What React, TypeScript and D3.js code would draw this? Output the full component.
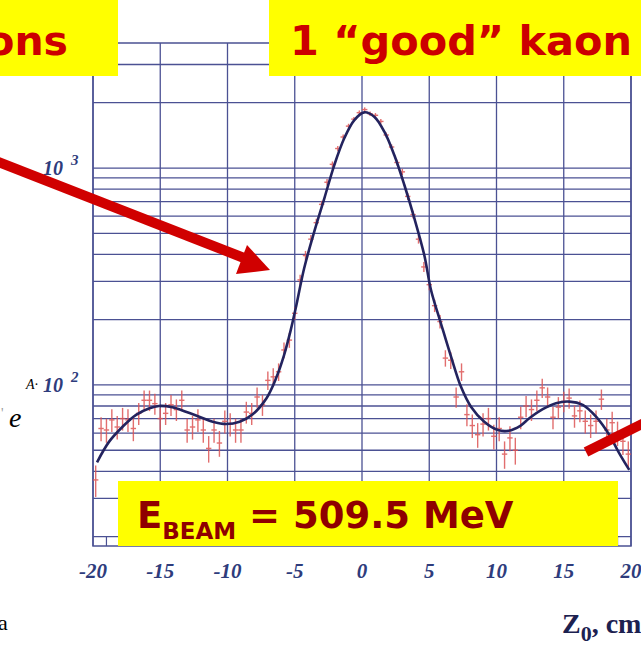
import React, { useRef, useEffect } from "react";
import * as d3 from "d3";

// histogram bins (Z0, cm) and counts
const binZ = [
  -19.8, -19.4, -19.0, -18.6, -18.2, -17.8, -17.4, -17.0, -16.6, -16.2,
  -15.8, -15.4, -15.0, -14.6, -14.2, -13.8, -13.4, -13.0, -12.6, -12.2,
  -11.8, -11.4, -11.0, -10.6, -10.2, -9.8, -9.4, -9.0, -8.6, -8.2,
  -7.8, -7.4, -7.0, -6.6, -6.2, -5.8, -5.4, -5.0, -4.6, -4.2,
  -3.8, -3.4, -3.0, -2.6, -2.2, -1.8, -1.4, -1.0, -0.6, -0.2,
  0.2, 0.6, 1.0, 1.4, 1.8, 2.2, 2.6, 3.0, 3.4, 3.8,
  4.2, 4.6, 5.0, 5.4, 5.8, 6.2, 6.6, 7.0, 7.4, 7.8,
  8.2, 8.6, 9.0, 9.4, 9.8, 10.2, 10.6, 11.0, 11.4, 11.8,
  12.2, 12.6, 13.0, 13.4, 13.8, 14.2, 14.6, 15.0, 15.4, 15.8,
  16.2, 16.6, 17.0, 17.4, 17.8, 18.2, 18.6, 19.0, 19.4, 19.8,
];
const binCounts = [
  36.5, 63, 62, 69, 64, 70, 69, 63, 74, 85,
  85, 82, 70, 74, 81, 77, 85, 62, 64, 69,
  62, 51, 62, 54, 68, 66, 62, 62, 75, 74,
  88, 81, 105, 109, 115, 145, 161, 214, 305, 395,
  470, 560, 680, 860, 1040, 1230, 1390, 1560, 1680, 1800,
  1860, 1780, 1750, 1640, 1420, 1250, 1060, 960, 740, 610,
  470, 350, 290, 232, 196, 133, 130, 88, 115, 73,
  65, 59, 66, 70, 58, 63, 48, 57, 50, 71,
  80, 77, 85, 97, 88, 71, 79, 84, 87, 72,
  76, 68, 65, 68, 86, 62, 67, 60, 55, 48,
];

// fitted curve
const fitZ = [
  -19.7, -18.8, -17.8, -16.8, -15.8, -15.1, -14.1, -13.1, -12.1, -11.1,
  -10.1, -9.1, -8.1, -7.1, -6.4, -5.8, -5.3, -4.9, -4.3, -3.55,
  -2.8, -2.06, -1.32, -0.57, 0.17, 0.91, 1.66, 2.4, 3.15, 3.89,
  4.63, 5.13, 5.87, 6.62, 7.36, 8.1, 9.09, 10.1, 10.9, 11.8,
  12.44, 13.44, 14.42, 15.41, 16.41, 17.4, 18.39, 19.13, 19.87,
];
const fitCounts = [
  44, 54.8, 64.2, 72.8, 78.1, 80, 78.9, 75.3, 71.4, 67.7,
  66.1, 67.7, 73.5, 86.9, 107, 137, 179, 230, 345, 509,
  725, 1032, 1371, 1664, 1806, 1723, 1470, 1148, 835, 587,
  397, 274, 192, 135, 98, 79.4, 67.7, 62, 61.5, 65,
  70.2, 77.3, 82.4, 83.8, 80.9, 71.4, 58.8, 48.4, 40.6,
];

const xTicks = [-20, -15, -10, -5, 0, 5, 10, 15, 20];
const yGrid = [20, 30, 40, 50, 60, 70, 80, 90, 100, 200, 300, 400, 500, 600, 700, 800, 900, 1000, 2000, 3000];
const yLabels = [
  { value: 1000, exp: "3" },
  { value: 100, exp: "2" },
];

const W = 641;
const H = 645;
const grid = "#4b5193";
const navy = "#2e3c7c";

const Chart = () => {
  const ref = useRef(null);

  useEffect(() => {
    const root = d3.select(ref.current);
    root.selectAll("*").remove();

    const svg = root
      .append("svg")
      .attr("width", W)
      .attr("height", H)
      .style("position", "absolute")
      .style("left", 0)
      .style("top", 0)
      .style("background", "#fff");

    const x = d3.scaleLinear().domain([-20, 20]).range([93, 631]);
    const y = d3.scaleLog().domain([18.1, 3770]).range([546, 43]);
    const [x0, x1] = x.range();
    const [yb, yt] = y.range();

    // grid
    const g = svg.append("g");
    g.selectAll(".h")
      .data(yGrid)
      .enter()
      .append("line")
      .attr("x1", x0)
      .attr("x2", x1)
      .attr("y1", (d) => y(d))
      .attr("y2", (d) => y(d))
      .attr("stroke", grid)
      .attr("stroke-width", 1.3);
    g.selectAll(".v")
      .data(xTicks)
      .enter()
      .append("line")
      .attr("x1", (d) => x(d))
      .attr("x2", (d) => x(d))
      .attr("y1", yt)
      .attr("y2", yb)
      .attr("stroke", grid)
      .attr("stroke-width", 1.3);
    g.append("rect")
      .attr("x", x0)
      .attr("y", yt)
      .attr("width", x1 - x0)
      .attr("height", yb - yt)
      .attr("fill", "none")
      .attr("stroke", grid)
      .attr("stroke-width", 1.5);
    g.selectAll(".minor")
      .data(d3.range(-19, 20).filter((d) => d % 5 !== 0))
      .enter()
      .append("line")
      .attr("x1", (d) => x(d))
      .attr("x2", (d) => x(d))
      .attr("y1", yb - 9)
      .attr("y2", yb)
      .attr("stroke", grid)
      .attr("stroke-width", 1.2);

    // data points with error bars
    const pts = svg
      .append("g")
      .attr("stroke", "#dd5555")
      .attr("stroke-width", 1.4)
      .attr("opacity", 0.85);
    binZ.forEach((z, i) => {
      const v = binCounts[i];
      const e = Math.sqrt(v);
      pts.append("line")
        .attr("x1", x(z))
        .attr("x2", x(z))
        .attr("y1", y(v + e))
        .attr("y2", y(Math.max(v - e, 18.2)));
      pts.append("line")
        .attr("x1", x(z - 0.2))
        .attr("x2", x(z + 0.2))
        .attr("y1", y(v))
        .attr("y2", y(v));
    });

    // fit curve
    const line = d3
      .line()
      .x((d) => x(d[0]))
      .y((d) => y(d[1]))
      .curve(d3.curveCatmullRom);
    svg.append("path")
      .attr("d", line(fitZ.map((z, i) => [z, fitCounts[i]])))
      .attr("fill", "none")
      .attr("stroke", "#23235e")
      .attr("stroke-width", 2.6);

    // x tick labels
    svg.selectAll(".xt")
      .data(xTicks)
      .enter()
      .append("text")
      .attr("x", (d) => x(d))
      .attr("y", 578)
      .attr("text-anchor", "middle")
      .attr("font-family", "Liberation Serif, serif")
      .attr("font-weight", "bold")
      .attr("font-style", "italic")
      .attr("font-size", 21)
      .attr("fill", navy)
      .text((d) => String(d));

    // y labels 10^n
    yLabels.forEach((d) => {
      const t = svg.append("text")
        .attr("x", 43)
        .attr("y", y(d.value) + 7)
        .attr("font-family", "Liberation Serif, serif")
        .attr("font-weight", "bold")
        .attr("font-style", "italic")
        .attr("font-size", 20)
        .attr("fill", navy);
      t.append("tspan").text("10");
      t.append("tspan").attr("dx", 8).attr("dy", -10).attr("font-size", 15).text(d.exp);
    });

    // axis title
    const title = svg.append("text")
      .attr("x", 562)
      .attr("y", 633)
      .attr("font-family", "Liberation Serif, serif")
      .attr("font-weight", "bold")
      .attr("font-size", 28)
      .attr("fill", "#1c2150");
    title.append("tspan").text("Z");
    title.append("tspan").attr("dy", 8).attr("font-size", 22).text("0");
    title.append("tspan").attr("dy", -8).text(", cm");

    // leftover fragments of the slide
    const serif = "Liberation Serif, serif";
    svg.append("text").attr("x", 26).attr("y", 389).attr("font-family", serif)
      .attr("font-size", 14).attr("font-style", "italic").text("A·");
    svg.append("text").attr("x", 9).attr("y", 427).attr("font-family", serif)
      .attr("font-size", 28).attr("font-style", "italic").text("e");
    svg.append("text").attr("x", 1).attr("y", 418).attr("font-family", serif)
      .attr("font-size", 14).attr("fill", "#999").text("'");
    svg.append("text").attr("x", -2).attr("y", 630).attr("font-family", serif)
      .attr("font-size", 22).text("a");

    // red arrows
    svg.append("line")
      .attr("x1", -4).attr("y1", 161)
      .attr("x2", 244).attr("y2", 258)
      .attr("stroke", "#d00000").attr("stroke-width", 10);
    svg.append("path")
      .attr("d", "M270,270 L247,245 L236,274 Z")
      .attr("fill", "#d00000");
    svg.append("line")
      .attr("x1", 586).attr("y1", 452)
      .attr("x2", 650).attr("y2", 420)
      .attr("stroke", "#d00000").attr("stroke-width", 10);

    // yellow labels
    const sans = "DejaVu Sans, Verdana, sans-serif";
    svg.append("rect").attr("x", 0).attr("y", 0).attr("width", 118).attr("height", 76).attr("fill", "#ffff00");
    svg.append("text").attr("x", 68).attr("y", 55).attr("text-anchor", "end")
      .attr("font-family", sans).attr("font-weight", "bold").attr("font-size", 41)
      .attr("fill", "#cc0000").text("ons");
    svg.append("rect").attr("x", 269).attr("y", 0).attr("width", 372).attr("height", 76).attr("fill", "#ffff00");
    svg.append("text").attr("x", 290).attr("y", 55)
      .attr("font-family", sans).attr("font-weight", "bold").attr("font-size", 40)
      .attr("textLength", 342).attr("lengthAdjust", "spacingAndGlyphs")
      .attr("fill", "#cc0000").text("1 \u201cgood\u201d kaon");

    svg.append("rect").attr("x", 118).attr("y", 481).attr("width", 500).attr("height", 65).attr("fill", "#ffff00");
    const eb = svg.append("text").attr("x", 137).attr("y", 528)
      .attr("font-family", sans).attr("font-weight", "bold").attr("font-size", 37)
      .attr("fill", "#8f0000");
    eb.append("tspan").text("E");
    eb.append("tspan").attr("dy", 11).attr("font-size", 23).text("BEAM");
    eb.append("tspan").attr("dy", -11).text(" = 509.5 MeV");
  }, []);

  return <div ref={ref}></div>;
};

export default function App() {
  return <Chart />;
}
